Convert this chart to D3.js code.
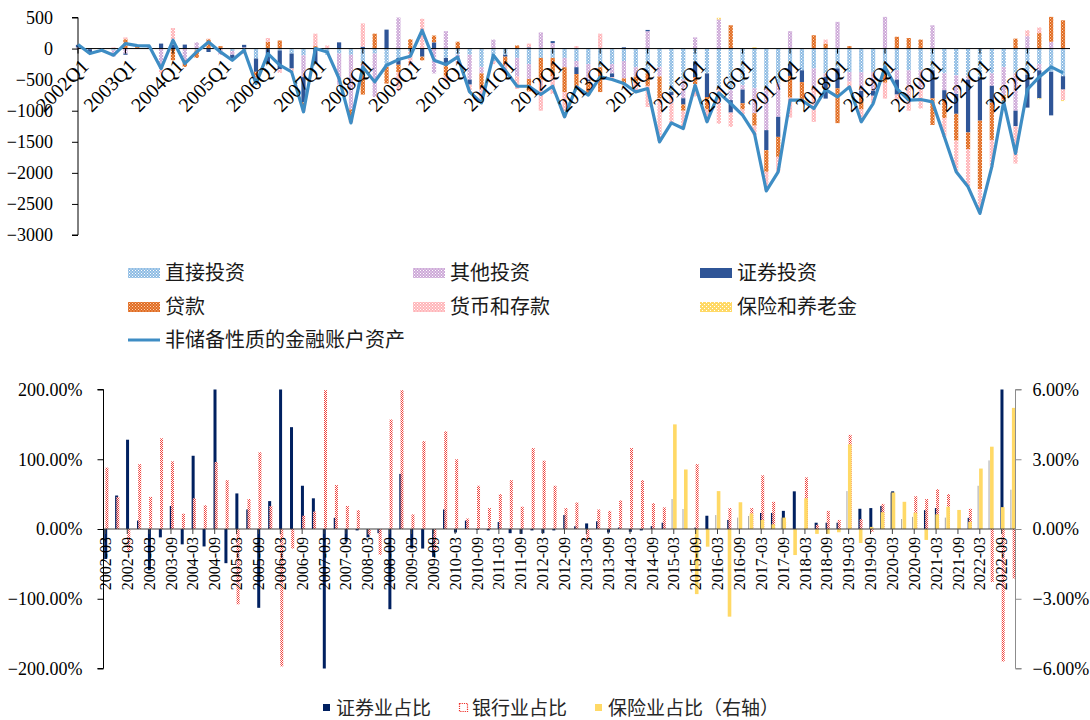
<!DOCTYPE html>
<html>
<head>
<meta charset="utf-8">
<script src="https://cdn.jsdelivr.net/npm/d3@7"></script>
<style>
  body { margin: 0; background: #fff; }
  svg { display: block; }
  .num { font-family: "Liberation Serif", "Times New Roman", serif; fill: #000; }
  .cjk { font-family: "Noto Sans CJK SC", sans-serif; }
</style>
</head>
<body>
<svg id="chart" width="1090" height="720"></svg>
<script>
// ---------- Upper panel: quarterly flows of non-reserve financial account assets ----------
const quarters = [
  "2002Q1","2002Q2","2002Q3","2002Q4","2003Q1","2003Q2","2003Q3","2003Q4",
  "2004Q1","2004Q2","2004Q3","2004Q4","2005Q1","2005Q2","2005Q3","2005Q4",
  "2006Q1","2006Q2","2006Q3","2006Q4","2007Q1","2007Q2","2007Q3","2007Q4",
  "2008Q1","2008Q2","2008Q3","2008Q4","2009Q1","2009Q2","2009Q3","2009Q4",
  "2010Q1","2010Q2","2010Q3","2010Q4","2011Q1","2011Q2","2011Q3","2011Q4",
  "2012Q1","2012Q2","2012Q3","2012Q4","2013Q1","2013Q2","2013Q3","2013Q4",
  "2014Q1","2014Q2","2014Q3","2014Q4","2015Q1","2015Q2","2015Q3","2015Q4",
  "2016Q1","2016Q2","2016Q3","2016Q4","2017Q1","2017Q2","2017Q3","2017Q4",
  "2018Q1","2018Q2","2018Q3","2018Q4","2019Q1","2019Q2","2019Q3","2019Q4",
  "2020Q1","2020Q2","2020Q3","2020Q4","2021Q1","2021Q2","2021Q3","2021Q4",
  "2022Q1","2022Q2","2022Q3","2022Q4"
];
const topTicks = [500, 0, -500, -1000, -1500, -2000, -2500, -3000];

const directInv = [0,-10,-10,-27,0,0,0,0,0,0,-30,0,0,-40,-60,-160,-10,-30,-80,-110,0,-100,-80,-100,-240,-80,-295,-150,-50,0,0,-150,-100,-100,-300,-200,-100,-150,-250,-150,-150,-150,-200,-250,-300,-250,-200,-300,-400,-300,-700,-500,-210,-400,-650,-670,-590,-640,-643,-563,-250,-350,-320,-400,-320,-380,-380,-380,-350,-350,-350,-350,-350,-400,-430,-450,-460,-400,-300,-400,-420,-250,-375,-445];
const otherInv = [20,0,-20,-100,-80,0,40,-330,0,-188,100,0,-100,-60,20,0,0,0,0,-350,0,0,-500,-880,-100,-700,0,500,0,0,-400,280,-140,-400,-100,145,0,-300,-240,260,90,-150,-100,-250,0,-150,-280,-150,280,-150,0,-300,180,0,470,-160,-70,-400,-670,-536,280,0,-300,-55,430,-150,-300,-300,510,-150,-250,-300,375,-270,-300,-50,0,-200,-450,-600,200,-100,110,0];
const portfolioInv = [40,-70,0,0,-20,0,0,80,60,64,0,-55,0,-80,40,-214,-240,-300,-241,-400,-240,0,100,0,30,0,305,-110,0,-130,100,-100,0,-80,0,0,-30,0,20,0,30,0,-110,-30,0,-60,20,0,20,0,-50,-100,-250,-380,0,-200,-220,0,-322,-322,-190,-190,0,-350,-320,0,-100,-80,0,-240,0,0,-450,-150,-320,-850,-700,-270,0,-250,-530,-450,-700,-215];
const loans = [0,0,0,0,150,40,0,0,-190,-107,-120,150,40,0,0,-80,110,130,0,-60,40,0,0,-200,-400,240,-268,-120,150,-60,110,-200,110,0,-230,0,-120,50,-200,-350,-300,-400,-250,-220,-400,0,-100,-100,-200,-350,0,-100,-110,-200,0,375,-100,-200,-348,-322,-350,-290,215,80,-560,40,-200,0,-200,190,170,145,-430,-300,-430,-270,-1100,-600,-108,160,0,250,400,455];
const deposits = [0,0,0,20,30,10,0,-70,270,0,0,10,0,0,-30,-100,60,-60,-54,-90,200,50,0,-15,375,0,0,-300,-220,480,0,-90,0,-120,-240,-50,-100,-200,60,-500,-280,-400,40,0,240,-40,0,-150,-340,-700,-450,-290,-200,-200,-560,-230,-90,-150,-300,-241,-320,0,-560,65,0,-125,-200,-120,-255,-95,-400,-315,0,-300,-500,-600,-390,-430,0,-600,95,90,0,-170];
const insurance = [0,0,0,0,0,0,0,0,0,0,0,0,0,0,0,0,0,0,0,0,0,0,0,0,0,0,0,0,0,0,0,0,0,0,0,0,0,0,0,0,0,0,0,0,0,0,0,0,0,0,0,0,0,0,25,0,0,20,0,0,0,0,0,0,0,0,0,0,0,0,0,0,0,0,0,0,0,0,0,0,0,-15,0,-15];
const totalAssets = [64,-80,-27,-107,80,48,43,-322,134,-241,-54,107,-54,-188,-27,-563,-80,-268,-375,-1018,0,-54,-482,-1195,-295,-536,-268,-177,-123,295,-188,-257,-134,-697,-874,-107,-348,-606,-606,-740,-606,-1099,-616,-750,-456,-498,-563,-697,-643,-1501,-1195,-1286,-590,-1179,-713,-884,-1072,-1367,-2289,-1983,-831,-831,-965,-659,-777,-616,-1179,-884,-295,-643,-831,-820,-858,-1420,-1983,-2224,-2653,-1903,-858,-1688,-659,-456,-295,-391];

// ---------- Lower panel: sector shares ----------
const months = [
  "2002-03","2002-06","2002-09","2002-12","2003-03","2003-06","2003-09","2003-12",
  "2004-03","2004-06","2004-09","2004-12","2005-03","2005-06","2005-09","2005-12",
  "2006-03","2006-06","2006-09","2006-12","2007-03","2007-06","2007-09","2007-12",
  "2008-03","2008-06","2008-09","2008-12","2009-03","2009-06","2009-09","2009-12",
  "2010-03","2010-06","2010-09","2010-12","2011-03","2011-06","2011-09","2011-12",
  "2012-03","2012-06","2012-09","2012-12","2013-03","2013-06","2013-09","2013-12",
  "2014-03","2014-06","2014-09","2014-12","2015-03","2015-06","2015-09","2015-12",
  "2016-03","2016-06","2016-09","2016-12","2017-03","2017-06","2017-09","2017-12",
  "2018-03","2018-06","2018-09","2018-12","2019-03","2019-06","2019-09","2019-12",
  "2020-03","2020-06","2020-09","2020-12","2021-03","2021-06","2021-09","2021-12",
  "2022-03","2022-06","2022-09","2022-12"
];
const leftTicks = [200, 100, 0, -100, -200];
const rightTicks = [6, 3, 0, -3, -6];

const securitiesShare = [-43,48,128,12,-59,-12,33,-22,105,-25,200,-49,51,28,-113,40,200,146,62,44,-200,16,-18,-2,-12,-6,-115,79,-28,-28,-40,28,-5,12,-1,-2,10,-6,-7,-2,-6,-2,20,4,8,11,-5,2,-4,-2,4,9,0,0,2,19,0,13,0,0,23,23,26,54,0,9,9,9,0,29,30,33,54,0,0,27,30,0,0,16,0,0,200,0];
const bankShare = [88,46,-33,93,46,130,97,22,44,34,96,70,-108,43,110,33,-197,-28,19,25,199,63,33,27,-8,-37,157,199,21,126,-30,140,100,15,62,30,50,70,32,116,98,62,30,38,-18,28,26,41,116,70,37,31,0,0,93,0,0,30,0,30,77,39,10,0,74,6,26,13,135,14,-4,36,0,0,47,43,57,50,0,29,0,-76,-190,-71];
const insuranceShare = [0,0,0,0,0,0,0,0,0,0,0,0,0,0,0,0,0,0,0,0,0,0,0,0,0,0,0,0,0,0,0,0,0,0,0,0,0,0,0,0,0,0,0,0,0,0,0,0,0,0,0,0,4.5,2.56,-2.8,-0.76,1.63,-3.77,1.15,0.67,0.39,0.2,0.49,-1.12,1.32,-0.21,-0.21,-0.14,3.64,-0.6,0.09,0.72,1.57,1.17,0.7,-0.47,0.63,0.96,0.82,0.31,2.6,3.54,0.94,5.21];
const greyShare = [0,0,0,0,0,0,0,0,0,0,0,0,0,0,0,0,0,0,0,0,0,0,0,0,0,0,0,0,0,0,0,0,0,0,0,0,0,0,0,0,0,0,0,0,0,0,0,0,0,0,0,0,1.29,0.86,0,0,0.6,0,0.49,0.56,0,0,0.49,0,0,0,0,0,1.63,0,0,0,1.57,0.43,0.52,0,0,0.49,0,0,1.86,2.95,0,1.69];

// ---------- drawing ----------
const svg = d3.select("#chart");
const defs = svg.append("defs");

// small repeating fills for the patterned bar series
function dotPattern(id, base, dot, size) {
  const p = defs.append("pattern").attr("id", id)
    .attr("patternUnits", "userSpaceOnUse").attr("width", size).attr("height", size);
  p.append("rect").attr("width", size).attr("height", size).attr("fill", base);
  p.append("rect").attr("x", 0).attr("y", 0).attr("width", 1).attr("height", 1).attr("fill", dot);
  p.append("rect").attr("x", size / 2).attr("y", size / 2).attr("width", 1).attr("height", 1).attr("fill", dot);
}
dotPattern("pDirect", "#8DBBE3", "#ffffff", 3);
dotPattern("pOther", "#CDA8D8", "#ffffff", 3);
dotPattern("pLoans", "#E06A1F", "#FBD3B5", 3);
dotPattern("pDeposits", "#FFB4B8", "#ffffff", 3);
dotPattern("pIns", "#FFD966", "#ffffff", 4);
// red checker used by the bank-share columns
const pb = defs.append("pattern").attr("id", "pBank")
  .attr("patternUnits", "userSpaceOnUse").attr("width", 2).attr("height", 2);
pb.append("rect").attr("width", 2).attr("height", 2).attr("fill", "#ffffff");
pb.append("rect").attr("x", 0).attr("y", 0).attr("width", 1).attr("height", 1).attr("fill", "#F0302A");
pb.append("rect").attr("x", 1).attr("y", 1).attr("width", 1).attr("height", 1).attr("fill", "#F0302A");

const series = [
  { key: "直接投资", values: directInv, fill: "url(#pDirect)" },
  { key: "其他投资", values: otherInv, fill: "url(#pOther)" },
  { key: "证券投资", values: portfolioInv, fill: "#2F5597" },
  { key: "贷款", values: loans, fill: "url(#pLoans)" },
  { key: "货币和存款", values: deposits, fill: "url(#pDeposits)" },
  { key: "保险和养老金", values: insurance, fill: "url(#pIns)" }
];

const xTop = d3.scalePoint().domain(quarters).range([78, 1063]);
const yTop = d3.scaleLinear().domain([-3000, 500]).range([235, 17.5]);

const rows = quarters.map((q, i) => {
  const r = { q };
  series.forEach(s => { r[s.key] = s.values[i]; });
  return r;
});
const stacked = d3.stack().keys(series.map(s => s.key)).offset(d3.stackOffsetDiverging)(rows);

const upper = svg.append("g");
const barW = 4.2;
stacked.forEach((layer, li) => {
  upper.append("g").selectAll("rect").data(layer).join("rect")
    .attr("x", d => xTop(d.data.q) - barW / 2)
    .attr("y", d => yTop(Math.max(d[0], d[1])))
    .attr("width", barW)
    .attr("height", d => Math.abs(yTop(d[0]) - yTop(d[1])))
    .attr("fill", series[li].fill);
});

// axes of the upper panel
const yAxisTop = upper.append("g").attr("transform", "translate(78,0)")
  .call(d3.axisLeft(yTop).tickValues(topTicks).tickSize(6).tickPadding(19).tickFormat(d3.format("d")));
yAxisTop.select(".domain").attr("stroke", "#000").attr("d", `M-6,${yTop(500)}H0V${yTop(-3000)}H-6`);
yAxisTop.selectAll(".tick line").attr("stroke", "#000");
yAxisTop.selectAll(".tick text").attr("class", "num").style("font-size", "18px").attr("fill", "#000");

upper.append("line").attr("x1", 78).attr("x2", 1070).attr("y1", yTop(0)).attr("y2", yTop(0))
  .attr("stroke", "#000").attr("stroke-width", 1);
const labQ = quarters.filter((q, i) => i % 4 === 0);
upper.append("g").selectAll("line").data(labQ).join("line")
  .attr("x1", d => xTop(d)).attr("x2", d => xTop(d))
  .attr("y1", yTop(0)).attr("y2", yTop(0) + 5).attr("stroke", "#000");

// trend line
upper.append("path").datum(totalAssets)
  .attr("fill", "none").attr("stroke", "#3E8DC4").attr("stroke-width", 3.2)
  .attr("stroke-linejoin", "round")
  .attr("d", d3.line().x((d, i) => xTop(quarters[i])).y(d => yTop(d)));

upper.append("g").selectAll("text").data(labQ).join("text")
  .attr("class", "num").style("font-size", "20px")
  .attr("text-anchor", "end")
  .attr("transform", d => `translate(${xTop(d) + 2},${yTop(0) + 9}) rotate(-45)`)
  .attr("dy", "0.7em")
  .text(d => d);

// legend of the upper panel
const legTop = svg.append("g").attr("class", "cjk");
const legCols = [128, 413, 700];
const legRows = [273, 307, 340];
series.forEach((s, i) => {
  const x = legCols[i % 3], y = legRows[Math.floor(i / 3)];
  legTop.append("rect").attr("x", x).attr("y", y - 5).attr("width", 32).attr("height", 10).attr("fill", s.fill);
  legTop.append("text").attr("x", x + 37).attr("y", y).attr("dy", "0.35em")
    .style("font-size", "20px").attr("fill", "#1a1a1a").text(s.key);
});
legTop.append("line").attr("x1", 128).attr("x2", 160).attr("y1", legRows[2]).attr("y2", legRows[2])
  .attr("stroke", "#3E8DC4").attr("stroke-width", 3);
legTop.append("text").attr("x", 165).attr("y", legRows[2]).attr("dy", "0.35em")
  .style("font-size", "20px").attr("fill", "#1a1a1a").text("非储备性质的金融账户资产");

// ---------- lower panel ----------
const xBot = d3.scalePoint().domain(months).range([105.4, 1012.6]);
const yL = d3.scaleLinear().domain([-200, 200]).range([668.5, 389.5]);
const yR = d3.scaleLinear().domain([-6, 6]).range([668.5, 389.5]);

defs.append("clipPath").attr("id", "botClip").append("rect")
  .attr("x", 103.5).attr("y", 389).attr("width", 912).attr("height", 280);

const lower = svg.append("g");
const bars = lower.append("g").attr("clip-path", "url(#botClip)");

function barRect(sel, vals, scale, dx, w) {
  return sel.append("g").selectAll("rect").data(vals.map((v, i) => ({ v, m: months[i] })).filter(d => d.v !== 0))
    .join("rect")
    .attr("x", d => xBot(d.m) + dx)
    .attr("width", w)
    .attr("y", d => Math.min(scale(d.v), scale(0)))
    .attr("height", d => Math.abs(scale(d.v) - scale(0)));
}
barRect(bars, securitiesShare, yL, -1.2, 3).attr("fill", "#002060");
barRect(bars, bankShare, yL, 0, 3).attr("fill", "url(#pBank)").attr("fill-opacity", 0.9);
barRect(bars, greyShare, yR, -2.2, 1).attr("fill", "#A6A6A6");
barRect(bars, insuranceShare, yR, -0.7, 3.6).attr("fill", "#FFD966");

// zero line and category ticks
lower.append("line").attr("x1", 103.5).attr("x2", 1015.5).attr("y1", yL(0)).attr("y2", yL(0))
  .attr("stroke", "#404040").attr("stroke-width", 1.2);
const labM = months.filter((m, i) => i % 2 === 0);
lower.append("g").selectAll("line").data(labM).join("line")
  .attr("x1", d => xBot(d)).attr("x2", d => xBot(d))
  .attr("y1", yL(0)).attr("y2", yL(0) + 5).attr("stroke", "#404040");
lower.append("g").selectAll("text").data(labM).join("text")
  .attr("class", "num").style("font-size", "16px")
  .attr("text-anchor", "end")
  .attr("transform", d => `translate(${xBot(d)},${yL(0) + 8}) rotate(-90)`)
  .attr("dy", "0.35em")
  .text(d => d);

// left axis
const pct = d3.format(".2f");
const yAxL = lower.append("g").attr("transform", "translate(103.5,0)")
  .call(d3.axisLeft(yL).tickValues(leftTicks).tickSize(6).tickPadding(15).tickFormat(d => pct(d) + "%"));
yAxL.select(".domain").attr("stroke", "#000").attr("d", `M-6,${yL(200)}H0V${yL(-200)}H-6`);
yAxL.selectAll(".tick line").attr("stroke", "#000");
yAxL.selectAll(".tick text").attr("class", "num").style("font-size", "18px").attr("fill", "#000");

// right axis
const yAxR = lower.append("g").attr("transform", "translate(1015.5,0)")
  .call(d3.axisRight(yR).tickValues(rightTicks).tickSize(6).tickPadding(11).tickFormat(d => pct(d) + "%"));
yAxR.select(".domain").attr("stroke", "#8C8C8C").attr("d", `M6,${yR(6)}H0V${yR(-6)}H6`);
yAxR.selectAll(".tick line").attr("stroke", "#8C8C8C");
yAxR.selectAll(".tick text").attr("class", "num").style("font-size", "18px").attr("fill", "#000");

// legend of the lower panel
const legBot = svg.append("g").attr("class", "cjk");
const ly = 708;
legBot.append("rect").attr("x", 323).attr("y", ly - 4).attr("width", 7).attr("height", 7).attr("fill", "#002060");
legBot.append("text").attr("x", 336).attr("y", ly).attr("dy", "0.35em").style("font-size", "19px").attr("fill", "#262626").text("证券业占比");
legBot.append("rect").attr("x", 459.5).attr("y", ly - 4.5).attr("width", 8).attr("height", 8)
  .attr("fill", "none").attr("stroke", "#F0302A").attr("stroke-width", 1.2).attr("stroke-dasharray", "1.2 1");
legBot.append("text").attr("x", 472).attr("y", ly).attr("dy", "0.35em").style("font-size", "19px").attr("fill", "#262626").text("银行业占比");
legBot.append("rect").attr("x", 595).attr("y", ly - 4).attr("width", 7).attr("height", 7).attr("fill", "#FFD966");
legBot.append("text").attr("x", 608).attr("y", ly).attr("dy", "0.35em").style("font-size", "19px").attr("fill", "#262626").text("保险业占比（右轴）");
</script>
</body>
</html>
